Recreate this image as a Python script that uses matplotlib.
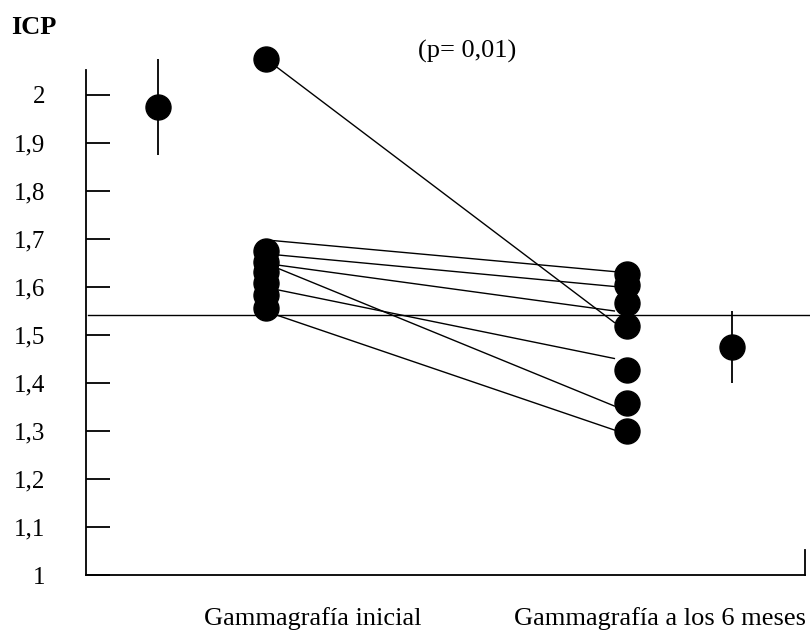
import matplotlib
matplotlib.use("Agg")
import matplotlib.pyplot as plt

# datos
x_inicial = 1.0
x_6meses = 2.0
icp_inicial = [2.075, 1.675, 1.653, 1.632, 1.608, 1.583, 1.557]
icp_6meses = [1.628, 1.604, 1.566, 1.519, 1.427, 1.358, 1.299]

# extremos de las lineas que unen cada paciente
linea_inicio = [2.075, 1.698, 1.669, 1.649, 1.649, 1.599, 1.549]
linea_fin = [1.526, 1.632, 1.601, 1.550, 1.352, 1.451, 1.302]
x_fin_linea = 1.965

# media y desviacion de cada grupo
media_x = [0.70, 2.29]
media_y = [1.975, 1.475]
media_err = [0.10, 0.075]

referencia = 1.541
yticks = [1, 1.1, 1.2, 1.3, 1.4, 1.5, 1.6, 1.7, 1.8, 1.9, 2]
ytick_labels = ["1", "1,1", "1,2", "1,3", "1,4", "1,5", "1,6", "1,7", "1,8", "1,9", "2"]
etiquetas = ["Gammagrafía inicial", "Gammagrafía a los 6 meses"]

plt.rcParams['font.family'] = ['Liberation Serif', 'DejaVu Serif']

fig = plt.figure(figsize=(8.1, 6.3), dpi=100)
ax = fig.add_axes([86/810, 1 - 575/630, (805-86)/810, (575-70)/630])
ax.set_xlim(0.5014, 2.493)
ax.set_ylim(1, 2.052)

for a, b in zip(linea_inicio, linea_fin):
    ax.plot([x_inicial, x_fin_linea], [a, b], color='black', lw=1.0, clip_on=False, zorder=2)

ax.plot([x_inicial]*len(icp_inicial), icp_inicial, 'o', color='black', ms=18,
        clip_on=False, zorder=3)
ax.plot([x_6meses]*len(icp_6meses), icp_6meses, 'o', color='black', ms=18,
        clip_on=False, zorder=3)

ax.errorbar(media_x, media_y, yerr=media_err, fmt='o', color='black', ms=18,
            elinewidth=1.3, capsize=0, clip_on=False, zorder=3)

ax.plot([0.506, 2.53], [referencia, referencia], color='black', lw=1.0, clip_on=False, zorder=1)

ax.spines['top'].set_visible(False)
ax.spines['right'].set_bounds(1, 1.052)
for s in ['left', 'bottom', 'right']:
    ax.spines[s].set_linewidth(1.3)

ax.set_xticks([])
ax.set_yticks(yticks)
ax.set_yticklabels(ytick_labels)
ax.tick_params(axis='y', direction='in', length=17, width=1.3, pad=29.5, labelsize=18)

fig.text(11/810, 1 - 28/630, "ICP", fontsize=19, fontweight='bold', ha='left', va='center')
fig.text(467/810, 1 - 51/630, "(p= 0,01)", fontsize=19, ha='center', va='center')
fig.text(313/810, 1 - 619/630, etiquetas[0], fontsize=19, ha='center', va='center')
fig.text(660/810, 1 - 619/630, etiquetas[1], fontsize=19, ha='center', va='center')

fig.savefig("out.png", dpi=100)
